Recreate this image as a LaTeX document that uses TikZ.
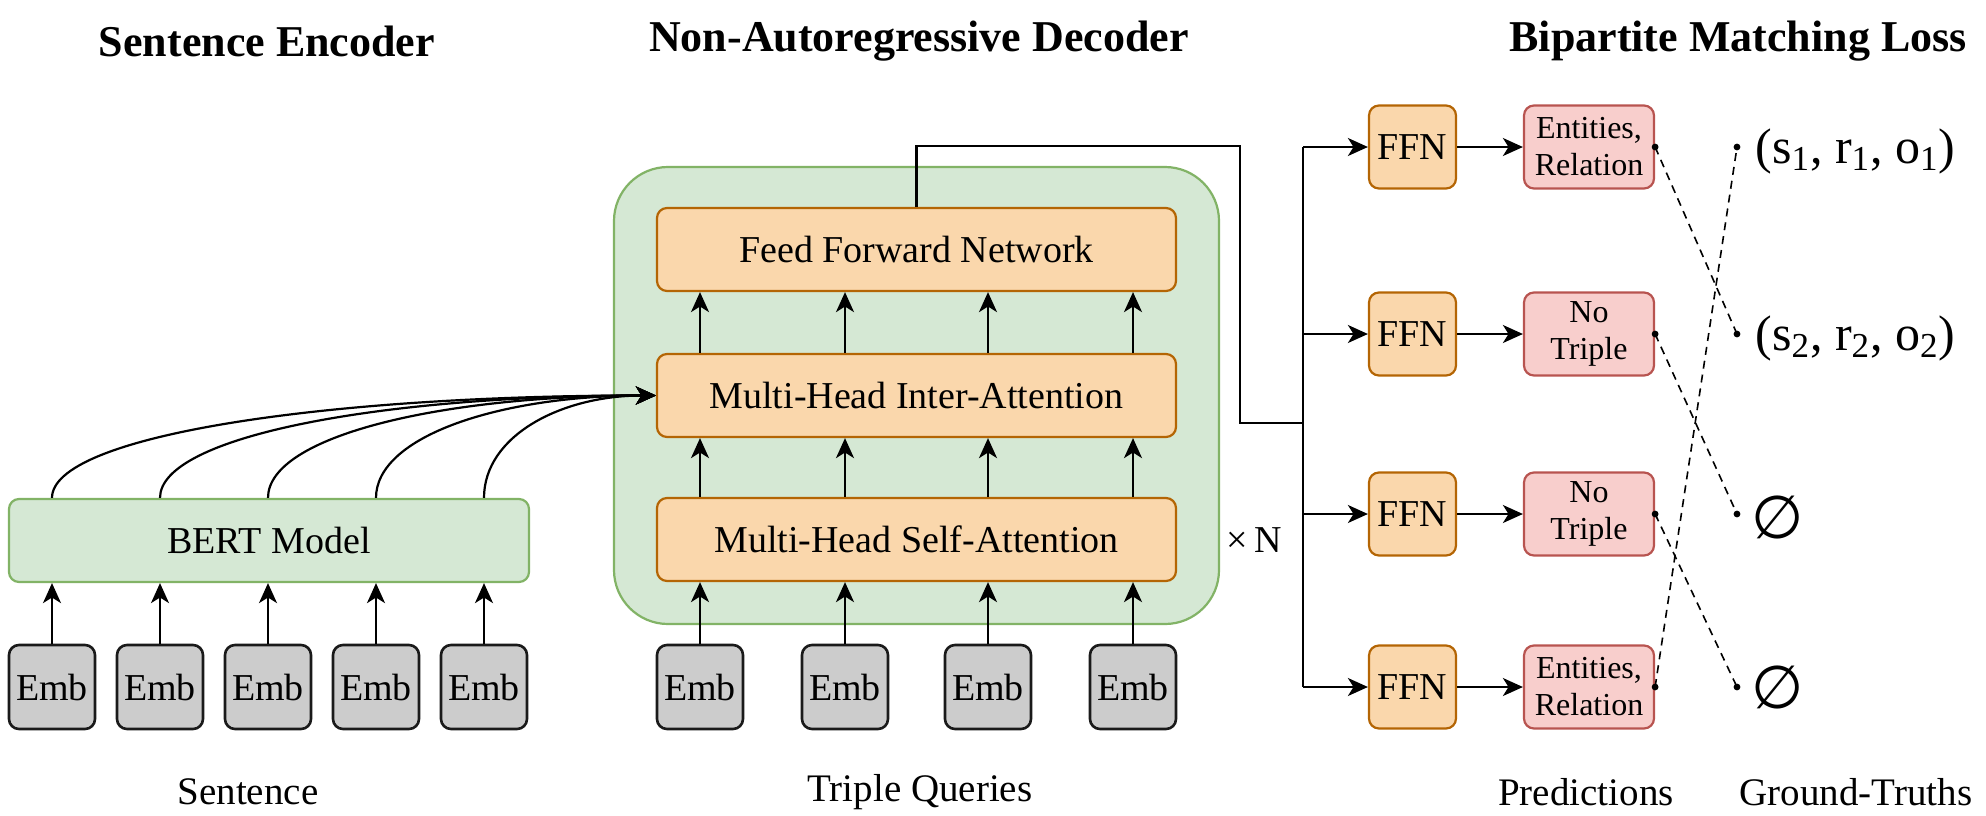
\documentclass[tikz,border=0pt]{standalone}
\usepackage{fontspec}
\setmainfont{Liberation Serif}
\newfontfamily\esetfont{DejaVu Sans}
\usetikzlibrary{arrows.meta}
\definecolor{gfill}{HTML}{D5E8D4}
\definecolor{gline}{HTML}{82B366}
\definecolor{ofill}{HTML}{FAD7AC}
\definecolor{oline}{HTML}{B46504}
\definecolor{rfill}{HTML}{F8CECC}
\definecolor{rline}{HTML}{B85450}
\definecolor{efill}{HTML}{CCCCCC}
\definecolor{eline}{HTML}{1A1A1A}
\begin{document}
\begin{tikzpicture}[x=0.5pt,y=-0.5pt,
  box/.style={rectangle, rounded corners=5pt, line width=1.1pt, align=center, inner sep=0pt, font=\fontsize{19}{22}\selectfont},
  emb/.style={box, draw=eline, fill=efill, line width=1.3pt, minimum width=43pt, minimum height=42pt},
  bertbox/.style={box, draw=gline, fill=gfill, minimum width=260pt, minimum height=41.5pt},
  layer/.style={box, draw=oline, fill=ofill, minimum width=259.5pt, minimum height=41.5pt},
  ffn/.style={box, draw=oline, fill=ofill, minimum width=43.5pt, minimum height=41.5pt},
  pred/.style={box, draw=rline, fill=rfill, minimum width=65pt, minimum height=41.5pt, font=\fontsize{16}{18.5}\selectfont},
  decoder/.style={rectangle, rounded corners=27pt, draw=gline, fill=gfill, line width=1.1pt, minimum width=302.5pt, minimum height=228.5pt, inner sep=0pt},
  arr/.style={-{Stealth[length=10pt,width=9pt,inset=2.8pt]}, line width=1.1pt},
  conn/.style={line width=1.1pt},
  dot/.style={circle, fill=black, inner sep=0pt, minimum size=3.4pt},
  matchline/.style={dashed, dash pattern=on 4pt off 3pt, line width=0.8pt},
  title/.style={font=\fontsize{22}{26}\selectfont\bfseries},
  caption/.style={font=\fontsize{19.5}{23}\selectfont},
  gt/.style={font=\fontsize{25}{29}\selectfont, anchor=west, inner sep=0pt},
  eset/.style={font=\fontsize{30}{34}\esetfont, inner sep=0pt},
]
\useasboundingbox (0,0) rectangle (1986,815);

% titles
\node[title] (t1) at (267,41) {Sentence Encoder};
\node[title] (t2) at (919,41) {Non-Autoregressive Decoder};
\node[title] (t3) at (1738,41) {Bipartite Matching Loss};

% sentence encoder
\node[bertbox] (bert) at (269,540.5) {BERT Model};
\foreach \i/\x in {1/52,2/160,3/268,4/376,5/484}{
  \node[emb] (e\i) at (\x,687) {Emb};
}

% decoder
\node[decoder] (dec) at (916.5,395.5) {};
\node[layer] (ffnbig) at (916.5,249.5) {Feed Forward Network};
\node[layer] (inter) at (916.5,395.5) {Multi-Head Inter-Attention};
\node[layer] (self) at (916.5,539.5) {Multi-Head Self-Attention};
\foreach \i/\x in {1/700,2/845,3/988,4/1133}{
  \node[emb] (q\i) at (\x,687) {Emb};
}
\node[font=\fontsize{19}{22}\selectfont] (xn) at (1254,540) {×\,N};

% encoder arrows
\foreach \i in {1,...,5}{
  \draw[arr] (e\i.north) -- (e\i.north |- bert.south);
}
\draw[arr] (e1.north |- bert.north) .. controls +(0,-62) and +(-333,0) .. (inter.west);
\draw[arr] (e2.north |- bert.north) .. controls +(0,-62) and +(-273,0) .. (inter.west);
\draw[arr] (e3.north |- bert.north) .. controls +(0,-62) and +(-214,0) .. (inter.west);
\draw[arr] (e4.north |- bert.north) .. controls +(0,-62) and +(-155,0) .. (inter.west);
\draw[arr] (e5.north |- bert.north) .. controls +(0,-62) and +(-95,0) .. (inter.west);

% decoder arrows
\foreach \i in {1,...,4}{
  \draw[arr] (q\i.north) -- (q\i.north |- self.south);
  \draw[arr] (q\i.north |- self.north) -- (q\i.north |- inter.south);
  \draw[arr] (q\i.north |- inter.north) -- (q\i.north |- ffnbig.south);
}

% predictions
\foreach \i/\y in {1/147,2/334,3/514,4/687}{
  \node[ffn] (f\i) at (1412.5,\y) {FFN};
}
\node[pred] (p1) at (1589,147) {Entities,\\Relation};
\node[pred] (p2) at (1589,334) {No\\Triple};
\node[pred] (p3) at (1589,514) {No\\Triple};
\node[pred] (p4) at (1589,687) {Entities,\\Relation};

\coordinate (tr) at (1240,146);
\coordinate (bus) at (1303,423);
\draw[conn] (ffnbig.north) |- (tr) |- (bus);
\draw[conn] (f1.west -| bus) -- (f4.west -| bus);
\foreach \i in {1,...,4}{
  \draw[arr] (f\i.west -| bus) -- (f\i.west);
  \draw[arr] (f\i.east) -- (p\i.west);
  \node[dot] (pd\i) at (p\i.east) {};
}

% ground truths
\node[dot] (g1) at (1737,147) {};
\node[dot] (g2) at (1737,334) {};
\node[dot] (g3) at (1737,514) {};
\node[dot] (g4) at (1737,687) {};
\node[gt] (gt1) at (1755,151) {(s\textsubscript{1}, r\textsubscript{1}, o\textsubscript{1})};
\node[gt] (gt2) at (1755,338) {(s\textsubscript{2}, r\textsubscript{2}, o\textsubscript{2})};
\node[eset] (gt3) at (1778,517) {∅};
\node[eset] (gt4) at (1778,687) {∅};

\draw[matchline] (pd1.center) -- (g2.center);
\draw[matchline] (pd2.center) -- (g3.center);
\draw[matchline] (pd3.center) -- (g4.center);
\draw[matchline] (pd4.center) -- (g1.center);

% captions
\node[caption] (c1) at (248,792) {Sentence};
\node[caption] (c2) at (920,792) {Triple Queries};
\node[caption] (c3) at (1586,792) {Predictions};
\node[caption] (c4) at (1856,792) {Ground-Truths};
\end{tikzpicture}
\end{document}
